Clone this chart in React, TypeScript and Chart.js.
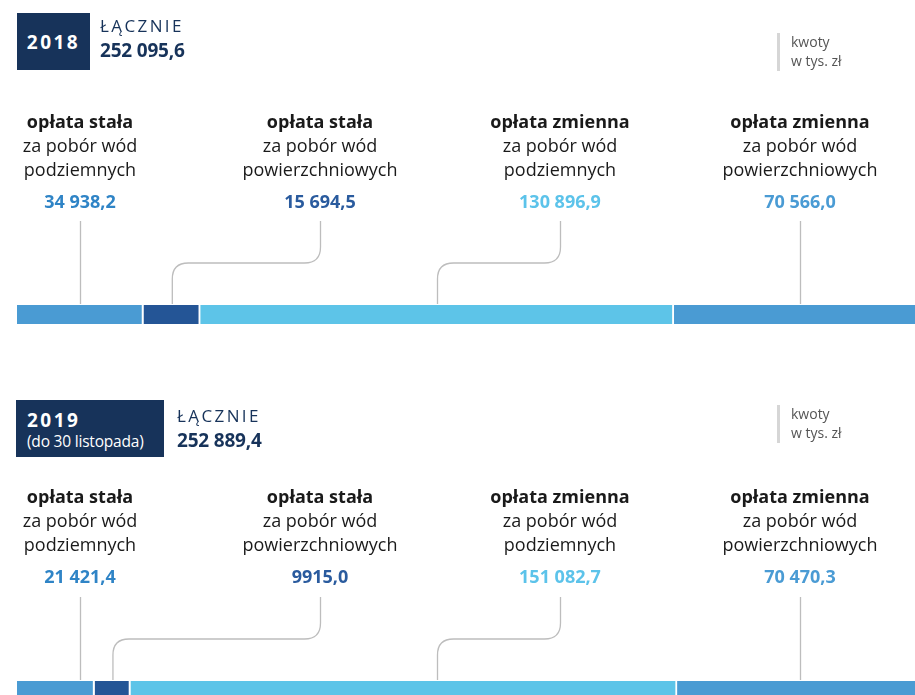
import React, { useEffect, useRef } from "react";
import { Chart, registerables } from "chart.js";
Chart.register(...registerables);

const years = ["2018", "2019"];
const yearNotes = ["", "(do 30 listopada)"];
const feeTypes = ["opłata stała", "opłata stała", "opłata zmienna", "opłata zmienna"];
const feeLine2 = ["za pobór wód", "za pobór wód", "za pobór wód", "za pobór wód"];
const waterTypes = ["podziemnych", "powierzchniowych", "podziemnych", "powierzchniowych"];
const values2018 = [34938.2, 15694.5, 130896.9, 70566.0];
const values2019 = [21421.4, 9915.0, 151082.7, 70470.3];
const unitNote = ["kwoty", "w tys. zł"];
const totalLabel = "ŁĄCZNIE";

const segmentColors = ["#4a9bd3", "#245596", "#5dc4e8", "#4a9bd3"];
const valueColors = ["#2f84c6", "#2a5b9e", "#5cc3ea", "#4a9bd4"];
const navy = "#17335a";
const lineColor = "#bdbdbd";

const sum = (a: number[]) => a.reduce((s, v) => s + v, 0);
const fmt = (v: number) => {
  const [i, d] = v.toFixed(1).split(".");
  const ip = i.length > 4 ? i.replace(/\B(?=(\d{3})+(?!\d))/g, "\u00a0") : i;
  return ip + "," + d;
};

const labelCenters = [80, 320, 560, 800];
const CANVAS_W = 932;
const CANVAS_H = 340;

function makeChart(
  canvas: HTMLCanvasElement,
  year: string,
  values: number[],
  maxTotal: number,
  getAnchors: (own: number[]) => number[],
  lineTop: number,
  lineMid: number
) {
  const connectorPlugin = {
    id: "connectors" + year,
    afterDatasetsDraw(chart: any) {
      const ctx = chart.ctx;
      const centers: number[] = [];
      let barTop = 0;
      values.forEach((_, i) => {
        const el = chart.getDatasetMeta(i).data[0];
        centers.push((el.x + el.base) / 2);
        barTop = el.y - el.height / 2;
      });
      const anchors = getAnchors(centers);
      ctx.save();
      ctx.strokeStyle = lineColor;
      ctx.lineWidth = 1.3;
      const r = 16;
      const bottom = barTop - 1;
      anchors.forEach((ax, i) => {
        const lx = labelCenters[i];
        ctx.beginPath();
        if (Math.abs(ax - lx) < 4) {
          ctx.moveTo(lx + 0.5, lineTop);
          ctx.lineTo(lx + 0.5, bottom);
        } else {
          const dir = ax < lx ? -1 : 1;
          ctx.moveTo(lx + 0.5, lineTop);
          ctx.lineTo(lx + 0.5, lineMid - r);
          ctx.quadraticCurveTo(lx + 0.5, lineMid, lx + 0.5 + dir * r, lineMid);
          ctx.lineTo(ax + 0.5 - dir * r, lineMid);
          ctx.quadraticCurveTo(ax + 0.5, lineMid, ax + 0.5, lineMid + r);
          ctx.lineTo(ax + 0.5, bottom);
        }
        ctx.stroke();
      });
      ctx.restore();
    },
  };

  return new Chart(canvas, {
    type: "bar",
    data: {
      labels: [year],
      datasets: values.map((v, i) => ({
        label: feeTypes[i] + " " + waterTypes[i],
        data: [v],
        backgroundColor: segmentColors[i],
        borderColor: "#ffffff",
        borderWidth: { top: 0, bottom: 0, left: 0, right: 2 },
        borderSkipped: false,
        barThickness: 19,
      })),
    },
    options: {
      indexAxis: "y",
      responsive: false,
      animation: false,
      events: [],
      layout: { padding: { left: 17, right: 0, top: 300, bottom: 11 } },
      scales: {
        x: { stacked: true, min: 0, max: maxTotal, display: false },
        y: { stacked: true, display: false },
      },
      plugins: { legend: { display: false }, tooltip: { enabled: false } },
    },
    plugins: [connectorPlugin],
  } as any);
}

function Block({ top, idx, values }: { top: number; idx: number; values: number[] }) {
  const is2019 = idx === 1;
  const labelTop = top + 109;
  const kwTop = is2019 ? top + 30 : 33;
  return (
    <>
      <div
        style={{
          position: "absolute",
          left: is2019 ? 16 : 17,
          top: is2019 ? top + 25 : 13,
          width: is2019 ? 148 : 73,
          height: 57,
          background: navy,
          color: "#fff",
          boxSizing: "border-box",
          paddingLeft: is2019 ? 11 : 0,
          paddingTop: is2019 ? 3 : 0,
          display: "flex",
          flexDirection: "column",
          justifyContent: "center",
          alignItems: is2019 ? "flex-start" : "center",
        }}
      >
        <div style={{ fontWeight: 700, fontSize: 19, letterSpacing: 2.5, lineHeight: "22px" }}>{years[idx]}</div>
        {yearNotes[idx] && (
          <div style={{ fontSize: 15.5, lineHeight: "21px", letterSpacing: -0.2 }}>{yearNotes[idx]}</div>
        )}
      </div>
      <div
        style={{
          position: "absolute",
          left: is2019 ? 177 : 100,
          top: is2019 ? top + 28 : 13,
          color: navy,
          lineHeight: "25px",
        }}
      >
        <div style={{ fontSize: 17, letterSpacing: 2.4 }}>{totalLabel}</div>
        <div style={{ fontSize: 19, fontWeight: 700, letterSpacing: -0.2 }}>{fmt(sum(values))}</div>
      </div>
      <div
        style={{
          position: "absolute",
          left: 777,
          top: kwTop,
          width: 3,
          height: 38,
          background: "#d6d6d6",
        }}
      />
      <div
        style={{
          position: "absolute",
          left: 791,
          top: kwTop - 1,
          fontSize: 14,
          lineHeight: "19px",
          color: "#555",
        }}
      >
        <div>{unitNote[0]}</div>
        <div>{unitNote[1]}</div>
      </div>
      {labelCenters.map((cx, i) => (
        <div
          key={i}
          style={{
            position: "absolute",
            left: cx - 120,
            top: labelTop,
            width: 240,
            textAlign: "center",
            fontSize: 18,
            lineHeight: "24px",
            color: "#1a1a1a",
          }}
        >
          <div style={{ fontWeight: 700 }}>{feeTypes[i]}</div>
          <div>{feeLine2[i]}</div>
          <div>{waterTypes[i]}</div>
          <div style={{ fontWeight: 700, color: valueColors[i], marginTop: 8 }}>{fmt(values[i])}</div>
        </div>
      ))}
    </>
  );
}

export default function App() {
  const ref1 = useRef<HTMLCanvasElement>(null);
  const ref2 = useRef<HTMLCanvasElement>(null);

  useEffect(() => {
    const maxTotal = Math.max(sum(values2018), sum(values2019));
    let c1: any = null;
    const refCenters = (): number[] => {
      if (!c1) return [];
      return values2018.map((_, i) => {
        const el = c1.getDatasetMeta(i).data[0];
        return (el.x + el.base) / 2;
      });
    };
    c1 = makeChart(ref1.current!, years[0], values2018, maxTotal, (own) => own, 221, 263);
    const c2 = makeChart(
      ref2.current!,
      years[1],
      values2019,
      maxTotal,
      (own) => {
        const rc = refCenters();
        return own.map((v, i) => (i === 1 || rc.length === 0 ? v : rc[i]));
      },
      221,
      263
    );
    return () => {
      c1.destroy();
      c2.destroy();
    };
  }, []);

  return (
    <div
      style={{
        position: "absolute",
        left: 0,
        top: 0,
        width: 915,
        height: 695,
        overflow: "hidden",
        background: "#fff",
        fontFamily: "'Open Sans', 'Noto Sans', sans-serif",
      }}
    >
      <canvas
        ref={ref1}
        width={CANVAS_W}
        height={CANVAS_H}
        style={{ position: "absolute", left: 0, top: 0, width: CANVAS_W, height: CANVAS_H }}
      />
      <canvas
        ref={ref2}
        width={CANVAS_W}
        height={CANVAS_H}
        style={{ position: "absolute", left: 0, top: 376, width: CANVAS_W, height: CANVAS_H }}
      />
      <Block top={0} idx={0} values={values2018} />
      <Block top={375} idx={1} values={values2019} />
    </div>
  );
}
